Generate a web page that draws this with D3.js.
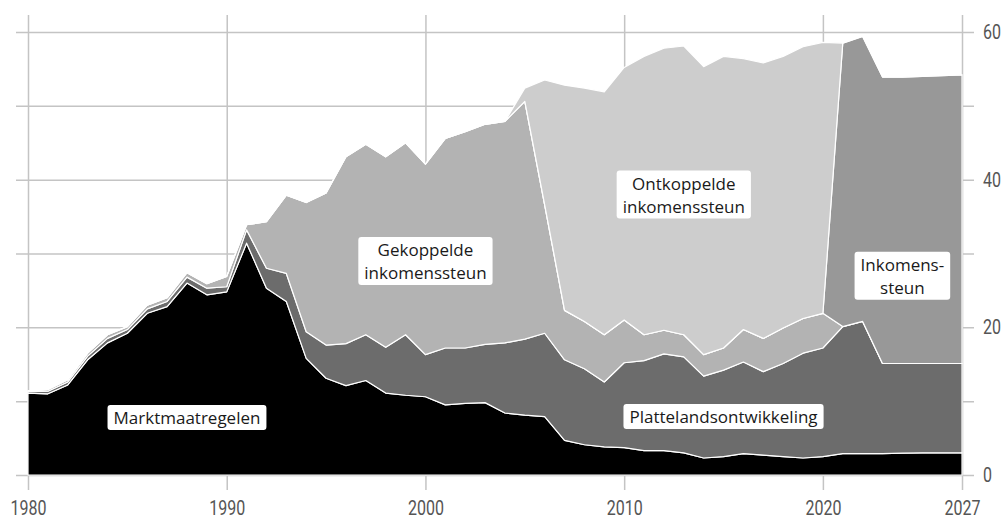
<!DOCTYPE html>
<html>
<head>
<meta charset="utf-8">
<script src="https://cdn.jsdelivr.net/npm/d3@7"></script>
<style>
  body { margin: 0; background: #fff; }
  .axisText { font-family: Roboto, "DejaVu Sans", sans-serif; font-size: 20px; fill: #555; }
  .chartLabel { font-family: "Open Sans", "Noto Sans", sans-serif; font-size: 17px; fill: #1a1a1a; }
</style>
</head>
<body>
<script>
// Data - EU landbouwuitgaven (mld euro) per categorie

const years = d3.range(1980, 2028);

const marktmaatregelen = [11.1, 11.0, 12.2, 15.6, 17.9, 19.2, 21.9, 22.8, 26.0, 24.4,
  24.8, 31.4, 25.3, 23.5, 15.8, 13.1, 12.1, 12.8, 11.1, 10.8,
  10.6, 9.5, 9.7, 9.8, 8.4, 8.1, 7.9, 4.7, 4.1, 3.8,
  3.7, 3.3, 3.3, 3.0, 2.3, 2.5, 2.9, 2.7, 2.5, 2.3,
  2.5, 2.9, 2.9, 2.9, 2.95, 3.0, 3.0, 3.0];

const plattelandsontwikkeling = [0.2, 0.35, 0.4, 0.5, 0.6, 0.5, 0.6, 0.7, 0.8, 0.9,
  0.7, 1.8, 2.7, 3.8, 3.6, 4.5, 5.7, 6.2, 6.2, 8.2,
  5.7, 7.7, 7.5, 7.9, 9.5, 10.3, 11.3, 10.9, 10.3, 8.8,
  11.5, 12.2, 13.1, 13.0, 11.1, 11.7, 12.4, 11.3, 12.6, 14.2,
  14.7, 17.2, 17.9, 12.2, 12.15, 12.1, 12.1, 12.1];

const gekoppelde = [0.1, 0.25, 0.3, 0.4, 0.5, 0.4, 0.5, 0.5, 0.6, 0.6,
  1.4, 0.7, 6.3, 10.6, 17.5, 20.6, 25.3, 25.8, 25.8, 26.0,
  25.8, 28.4, 29.3, 29.8, 30.0, 32.2, 17.4, 6.7, 6.4, 6.4,
  5.8, 3.5, 3.2, 3.0, 2.9, 3.0, 4.4, 4.5, 4.8, 4.7,
  4.7, 0, 0, 0, 0, 0, 0, 0];

const inkomenssteun = [0, 0, 0, 0, 0, 0, 0, 0, 0, 0,
  0, 0, 0, 0, 0, 0, 0, 0, 0, 0,
  0, 0, 0, 0, 0, 0, 0, 0, 0, 0,
  0, 0, 0, 0, 0, 0, 0, 0, 0, 0,
  0, 38.4, 38.6, 38.8, 38.8, 38.9, 39.0, 39.1];

const ontkoppelde = [0, 0, 0, 0, 0, 0, 0, 0, 0, 0,
  0, 0, 0, 0, 0, 0, 0, 0, 0, 0,
  0, 0, 0, 0, 0, 1.8, 16.9, 30.5, 31.6, 32.9,
  34.2, 37.7, 38.2, 39.1, 39.0, 39.5, 36.7, 37.3, 36.8, 36.8,
  36.7, 0, 0, 0, 0, 0, 0, 0];

const xTicks = [1980, 1990, 2000, 2010, 2020, 2027];
const yTicks = [0, 10, 20, 30, 40, 50, 60];
const yLabelled = [0, 20, 40, 60];

// Layer order, bottom to top
const keys = ["Marktmaatregelen", "Plattelandsontwikkeling", "Gekoppelde", "Inkomenssteun", "Ontkoppelde"];
const colors = ["#000000", "#6c6c6c", "#b3b3b3", "#989898", "#cdcdcd"];

// Build a table for d3.stack
const table = years.map((y, i) => ({
  year: y,
  Marktmaatregelen: marktmaatregelen[i],
  Plattelandsontwikkeling: plattelandsontwikkeling[i],
  Gekoppelde: gekoppelde[i],
  Inkomenssteun: inkomenssteun[i],
  Ontkoppelde: ontkoppelde[i]
}));

// Chart sizes
const width = 1002, height = 519;
const plotLeft = 28, plotRight = 962;
const plotTop = 32, plotBottom = 475;
const squeeze = 0.8; // condensed look for the tick labels

let x = d3.scaleLinear().domain([1980, 2027]).range([plotLeft, plotRight]);
let y = d3.scaleLinear().domain([0, 60]).range([plotBottom, plotTop]);

const svg = d3.select("body")
  .append("svg")
  .attr("width", width)
  .attr("height", height);

// Gridlines + axes
const xAxis = svg.append("g")
  .attr("transform", "translate(0,490)")
  .call(d3.axisBottom(x)
    .tickValues(xTicks)
    .tickFormat(d3.format("d"))
    .tickSize(-475)
    .tickPadding(11));

const yAxis = svg.append("g")
  .attr("transform", "translate(974,0)")
  .call(d3.axisRight(y)
    .tickValues(yTicks)
    .tickFormat(d => yLabelled.includes(d) ? d : "")
    .tickSize(-958)
    .tickPadding(9 / squeeze));

[xAxis, yAxis].forEach(g => {
  g.select(".domain").remove();
  g.selectAll("line").attr("stroke", "#c4c4c4").attr("stroke-width", 1.5);
  g.selectAll("text")
    .attr("class", "axisText")
    .attr("fill", null)
    .attr("transform", `scale(${squeeze},1)`);
});

// Stacked areas
const series = d3.stack().keys(keys)(table);

const area = d3.area()
  .x(d => x(d.data.year))
  .y0(d => y(d[0]))
  .y1(d => y(d[1]));

svg.append("g")
  .selectAll("path")
  .data(series)
  .enter()
  .append("path")
  .attr("d", area)
  .attr("fill", (d, i) => colors[i])
  .attr("stroke", "#fff")
  .attr("stroke-width", 1.2)
  .attr("stroke-linejoin", "round");

// Labels in white boxes
const labels = [
  { lines: ["Marktmaatregelen"], year: 1988, value: 7.7 },
  { lines: ["Gekoppelde", "inkomenssteun"], year: 2000, value: 28.9 },
  { lines: ["Ontkoppelde", "inkomenssteun"], year: 2013, value: 37.9 },
  { lines: ["Plattelandsontwikkeling"], year: 2015, value: 7.85 },
  { lines: ["Inkomens-", "steun"], year: 2024, value: 26.9 }
];

const lineH = 23;

labels.forEach(l => {
  const g = svg.append("g")
    .attr("transform", `translate(${x(l.year)},${y(l.value)})`);

  const txt = g.append("text")
    .attr("class", "chartLabel")
    .attr("text-anchor", "middle");

  l.lines.forEach((s, i) => {
    txt.append("tspan")
      .attr("x", 0)
      .attr("y", (i - (l.lines.length - 1) / 2) * lineH)
      .attr("dy", "0.35em")
      .text(s);
  });

  const bb = txt.node().getBBox();
  g.insert("rect", "text")
    .attr("x", bb.x - 6)
    .attr("y", bb.y - 1)
    .attr("width", bb.width + 12)
    .attr("height", bb.height + 2)
    .attr("rx", 3)
    .attr("fill", "#fff");
});
</script>
</body>
</html>
